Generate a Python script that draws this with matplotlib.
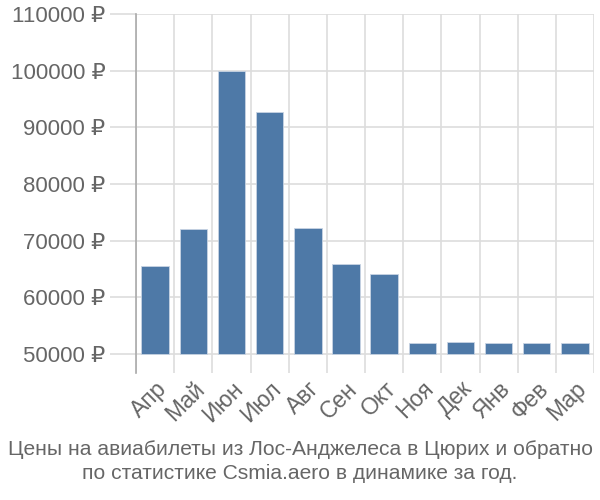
import numpy as np
import matplotlib
matplotlib.use("Agg")
import matplotlib.pyplot as plt
from matplotlib.ticker import FuncFormatter

# data
months = ["Апр", "Май", "Июн", "Июл", "Авг", "Сен", "Окт", "Ноя", "Дек", "Янв", "Фев", "Мар"]
prices = [65500, 72000, 100000, 92700, 72200, 65900, 64100, 51900, 52100, 51900, 51900, 51900]
y_ticks = [50000, 60000, 70000, 80000, 90000, 100000, 110000]
title = "Цены на авиабилеты из Лос-Анджелеса в Цюрих и обратно\nпо статистике Csmia.aero в динамике за год."

plt.rcParams['font.family'] = ['Liberation Sans', 'DejaVu Sans']

text_color = "#666666"
grid_color = "#dddddd"
bar_color = "#4e79a7"
base = 50000

fig = plt.figure(figsize=(6, 5), dpi=100)
ax = fig.add_axes([0.2267, 0.254, 0.7633, 0.718])

x = np.arange(len(months))
ax.bar(x, np.array(prices) - base, bottom=base, width=0.72, color=bar_color,
       edgecolor="#c8d4e3", linewidth=0.6, zorder=3)

ax.set_xlim(-0.5, len(months) - 0.5)
ax.set_ylim(46650, 110000)

# vertical grid at category boundaries
for b in np.arange(-0.5, len(months) + 0.5, 1):
    ax.axvline(b, color=grid_color, linewidth=1.2, zorder=1)
for t in y_ticks:
    ax.axhline(t, color=grid_color, linewidth=1.2, zorder=1)

ax.set_yticks(y_ticks)
ax.yaxis.set_major_formatter(FuncFormatter(lambda v, p: f"{int(v)} ₽"))
ax.tick_params(axis="y", length=19, width=1.2, color=grid_color, labelsize=16,
               labelcolor=text_color, pad=3)

ax.set_xticks(x)
ax.set_xticklabels(months, rotation=45, ha="right", rotation_mode="anchor")
ax.tick_params(axis="x", length=0, labelsize=16.5, labelcolor=text_color, pad=3)

for s in ["top", "right", "bottom"]:
    ax.spines[s].set_visible(False)
ax.spines["left"].set_color("#aaaaaa")
ax.spines["left"].set_linewidth(1.2)
ax.set_axisbelow(True)

fig.text(0.5, 0.034, title, ha="center", va="bottom", fontsize=15.1,
         color=text_color, linespacing=1.35)

fig.savefig("out.png", dpi=100)
